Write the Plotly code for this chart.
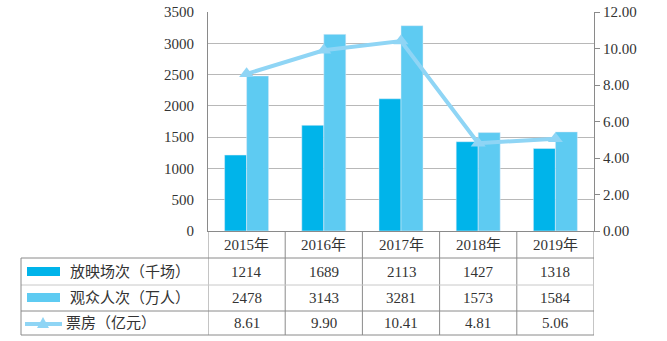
import plotly.graph_objects as go

years = ["2015年", "2016年", "2017年", "2018年", "2019年"]
screenings = [1214, 1689, 2113, 1427, 1318]
audience = [2478, 3143, 3281, 1573, 1584]
box_office = [8.61, 9.90, 10.41, 4.81, 5.06]
row_names = ["放映场次（千场）", "观众人次（万人）", "票房（亿元）"]

C_DARK = "#00b4ea"
C_LIGHT = "#5ecbf2"
C_LINE = "#8fd5f5"
FONT = "Liberation Serif, Noto Sans CJK SC"
GRID = "#b8b8b8"
AXIS = "#8a8a8a"

xs = list(range(len(years)))

fig = go.Figure()
fig.add_trace(go.Bar(x=xs, y=screenings, marker_color=C_DARK, name=row_names[0]))
fig.add_trace(go.Bar(x=xs, y=audience, marker_color=C_LIGHT, name=row_names[1]))
fig.add_trace(go.Scatter(x=xs, y=box_office, yaxis="y2", mode="lines+markers",
                         line=dict(color=C_LINE, width=4),
                         marker=dict(symbol="triangle-up", size=13, color=C_LINE),
                         name=row_names[2]))

L, R, T, B = 208, 73, 12, 110
W, H = 667, 341
pw, ph = W - L - R, H - T - B

def py(pix):
    return -(pix - (H - B)) / ph

def px(pix):
    return (pix - L) / pw

shapes = []
row_y = [py(258), py(285), py(311), py(335)]
bottom = row_y[-1]
# vertical lines of table
for i in range(len(years) + 1):
    shapes.append(dict(type="line", xref="x", yref="paper", x0=i - 0.5, x1=i - 0.5,
                       y0=0, y1=bottom, line=dict(color=AXIS, width=1)))
# horizontal table lines
row_cols = [AXIS, "#c8c8c8", AXIS, AXIS]
for yv, c in zip(row_y, row_cols):
    shapes.append(dict(type="line", xref="paper", yref="paper", x0=px(21), x1=1,
                       y0=yv, y1=yv, line=dict(color=c, width=1)))
# left border of table
shapes.append(dict(type="line", xref="paper", yref="paper", x0=px(21), x1=px(21),
                   y0=row_y[0], y1=bottom, line=dict(color=AXIS, width=1)))
# legend swatches
shapes.append(dict(type="rect", xref="paper", yref="paper", x0=px(27), x1=px(60),
                   y0=py(276), y1=py(267), fillcolor=C_DARK, line=dict(width=0)))
shapes.append(dict(type="rect", xref="paper", yref="paper", x0=px(27), x1=px(60),
                   y0=py(302), y1=py(293), fillcolor=C_LIGHT, line=dict(width=0)))
shapes.append(dict(type="line", xref="paper", yref="paper", x0=px(25), x1=px(62),
                   y0=py(324), y1=py(324), line=dict(color=C_LINE, width=4)))
tx, ty = 43, 324
shapes.append(dict(type="path", xref="paper", yref="paper",
                   path=f"M {px(tx-6)} {py(ty+4)} L {px(tx+6)} {py(ty+4)} L {px(tx)} {py(ty-7)} Z",
                   fillcolor=C_LINE, line=dict(width=0)))

annotations = []
header_y = py(245)
row_centers = [py(271.5), py(298), py(323)]
TXT = dict(family=FONT, size=15, color="#333")
for i, yr in enumerate(years):
    annotations.append(dict(x=i, y=header_y, xref="x", yref="paper", text=yr,
                            xanchor="center", yanchor="middle",
                            showarrow=False, font=TXT))
    vals = [str(screenings[i]), str(audience[i]), f"{box_office[i]:.2f}"]
    for v, yc in zip(vals, row_centers):
        annotations.append(dict(x=i, y=yc, xref="x", yref="paper", text=v,
                                xanchor="center", yanchor="middle",
                                showarrow=False, font=TXT))
for name, yc in zip(row_names, row_centers):
    xstart = 68 if name != row_names[2] else 64
    annotations.append(dict(x=px(xstart), y=yc, xref="paper", yref="paper", text=name,
                            xanchor="left", yanchor="middle", showarrow=False, font=TXT))

fig.update_layout(
    width=W, height=H, margin=dict(l=L, r=R, t=T, b=B, autoexpand=False),
    plot_bgcolor="white", paper_bgcolor="white",
    barmode="group", bargap=0.43, bargroupgap=0,
    showlegend=False,
    font=TXT,
    xaxis=dict(range=[-0.5, 4.5], showticklabels=False, showgrid=False, zeroline=False,
               showline=True, linecolor=AXIS, ticks="", automargin=False),
    yaxis=dict(range=[0, 3500], dtick=500, showgrid=True, gridcolor=GRID, zeroline=False,
               showline=True, linecolor=AXIS, ticks="", ticklabelstandoff=10,
               automargin=False, tickfont=TXT),
    yaxis2=dict(range=[0, 12], dtick=2, tickformat=".2f", overlaying="y", side="right",
                showgrid=False, zeroline=False, showline=True, linecolor=AXIS,
                ticks="outside", ticklen=5, tickcolor=AXIS, automargin=False,
                tickfont=TXT),
    shapes=shapes, annotations=annotations,
)

fig.write_html("out.html")
